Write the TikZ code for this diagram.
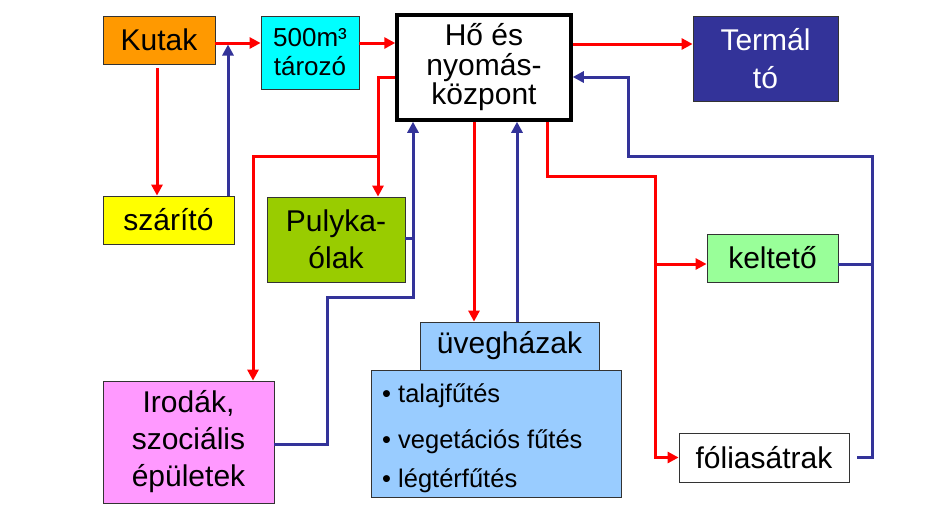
\documentclass[tikz,border=0pt]{standalone}
\usepackage{fontspec}
\setmainfont{Liberation Sans}
\usetikzlibrary{arrows.meta,calc}
\definecolor{rline}{HTML}{FF0000}
\definecolor{bline}{HTML}{333399}
\definecolor{cKutak}{HTML}{FF9900}
\definecolor{cTaro}{HTML}{00FFFF}
\definecolor{cTermal}{HTML}{333399}
\definecolor{cSzar}{HTML}{FFFF00}
\definecolor{cPuly}{HTML}{99CC00}
\definecolor{cIrod}{HTML}{FF99FF}
\definecolor{cUveg}{HTML}{99CCFF}
\definecolor{cKelt}{HTML}{99FF99}
\begin{document}
\begin{tikzpicture}[x=1pt,y=-1pt,
  box/.style={draw=black!80, line width=0.8pt, inner sep=0pt, align=center, font=\fontsize{30}{30}\selectfont},
  rarr/.style={draw=rline, line width=3pt, -{Triangle[length=11pt,width=11pt]}},
  rl/.style={draw=rline, line width=3pt},
  barr/.style={draw=bline, line width=3pt, -{Triangle[length=11pt,width=11pt]}},
  bl/.style={draw=bline, line width=3pt},
  bullet/.style={anchor=base west, inner sep=0pt, font=\fontsize{25.5}{26}\selectfont}
]
\useasboundingbox (0,0) rectangle (929,531);
\fill[white] (0,0) rectangle (929,531);

% boxes
\node[box, fill=cKutak, minimum width=112pt, minimum height=48pt] (kutak) at (159,40) {Kutak};
\node[box, fill=cTaro, minimum width=98pt, minimum height=73pt, font=\fontsize{26}{29}\selectfont] (tarozo) at (310,52.5) {500m³\\tározó};
\node[box, draw=black, line width=3.5pt, fill=white, minimum width=174pt, minimum height=105pt, font=\fontsize{30}{29.5}\selectfont] (ho) at (484,67.5) {Hő és\\nyomás-\\központ};
\node[box, fill=cTermal, text=white, minimum width=145pt, minimum height=85pt, font=\fontsize{30}{38}\selectfont] (termal) at (765.5,58.5) {Termál\\tó};
\node[box, fill=cSzar, minimum width=131pt, minimum height=48pt] (szarito) at (168.5,220) {szárító};
\node[box, fill=cPuly, minimum width=138pt, minimum height=85pt, font=\fontsize{30}{37}\selectfont] (pulyka) at (336,239.5) {Pulyka-\\ólak};
\node[box, fill=cIrod, minimum width=171pt, minimum height=122pt, font=\fontsize{30}{37}\selectfont] (irodak) at (188.5,442) {Irodák,\\szociális\\épületek};
\node[box, fill=cUveg, minimum width=250pt, minimum height=127pt] (uvegb) at (496,433.5) {};
\node[box, fill=cUveg, minimum width=179pt, minimum height=48pt] (uvegt) at (509.5,346) {üvegházak};
\node[box, fill=cKelt, minimum width=131pt, minimum height=48pt] (keltet) at (772.5,258) {keltető};
\node[box, fill=white, minimum width=170pt, minimum height=49pt] (folia) at (764,457.5) {fóliasátrak};

\node[bullet] (b1) at (382,402) {• talajfűtés};
\node[bullet] (b2) at (382,448) {• vegetációs fűtés};
\node[bullet] (b3) at (382,487) {• légtérfűtés};

% guide coordinates
\coordinate (yA) at (0,43);
\coordinate (yT) at (0,44);
\coordinate (yB) at (0,77);
\coordinate (yC) at (0,156);
\coordinate (yD) at (0,176);
\coordinate (yE) at (0,297);
\coordinate (yF) at (0,444);
\coordinate (yG) at (0,238);
\coordinate (yK) at (0,264);
\coordinate (xK) at (157,0);
\coordinate (xS) at (228,0);
\coordinate (xP) at (378,0);
\coordinate (xI) at (253,0);
\coordinate (xQ) at (327,0);
\coordinate (xR) at (413,0);
\coordinate (xU) at (474,0);
\coordinate (xV) at (517,0);
\coordinate (xW) at (547,0);
\coordinate (xX) at (655,0);
\coordinate (xY) at (628,0);
\coordinate (xZ) at (872,0);

% red connectors
\draw[rarr] (kutak.east |- yA) -- (tarozo.west |- yA);
\draw[rarr] (tarozo.east |- yA) -- (ho.west |- yA);
\draw[rarr, shorten <=4pt] (kutak.south -| xK) -- (szarito.north -| xK);
\draw[rarr] (ho.west |- yB) -| (xP |- pulyka.north);
\draw[rarr] (xP |- yC) -| (xI |- irodak.north);
\draw[rarr] (ho.south -| xU) -- (uvegt.north -| xU);
\draw[rarr] (ho.south -| xW) |- (xX |- yD) |- (folia.west);
\draw[rarr] (xX |- yK) -- (keltet.west |- yK);
\draw[rarr] (ho.east |- yT) -- (termal.west |- yT);

% blue connectors
\draw[barr, shorten >=1.5pt] (szarito.north -| xS) -- (xS |- yA);
\draw[barr] (irodak.east |- yF) -| (xQ |- yE) -| (xR |- ho.south);
\draw[bl] (pulyka.east |- yG) -- (xR |- yG);
\draw[barr] (uvegt.north -| xV) -- (ho.south -| xV);
\draw[barr] ([xshift=8pt]folia.east) -| (xZ |- yC) -| (xY |- yB) -- (ho.east |- yB);
\draw[bl] (keltet.east |- yK) -- (xZ |- yK);
\end{tikzpicture}
\end{document}
